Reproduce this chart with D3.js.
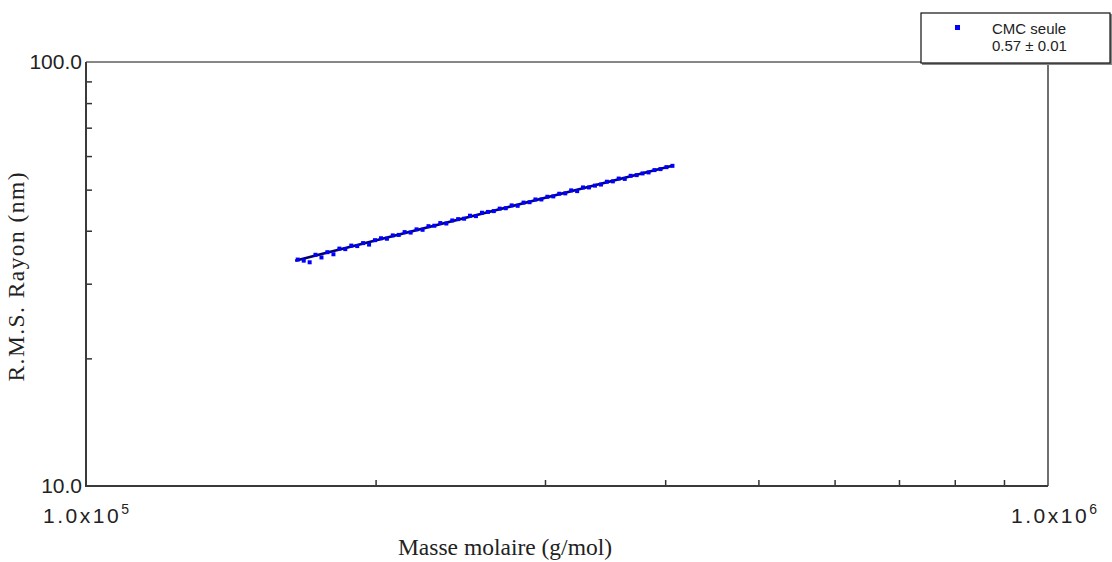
<html>
<head>
<script src="https://d3js.org/d3.v7.min.js"></script>
<style>
  body { margin: 0; background: #fff; }
  text { fill: #222; }
</style>
</head>
<body>
<script>
// molar mass (g/mol) and RMS radius (nm)
var masses = [166000, 168400, 170800, 173200, 175700, 178200, 180800, 183400, 186000, 188700,
  191400, 194100, 196900, 199700, 202600, 205500, 208400, 211400, 214400, 217500,
  220600, 223800, 227000, 230200, 233500, 236900, 240300, 243700, 247200, 250700,
  254300, 258000, 261700, 265400, 269200, 273100, 277000, 281000, 285000, 289100,
  293200, 297400, 301700, 306000, 310400, 314900, 319400, 324000, 328600, 333300,
  338100, 343000, 347900, 352900, 357900, 363100, 368300, 373600, 378900, 384400,
  389900, 395500, 401200, 407000];
var radii = [34.2, 34.0, 33.7, 35.1, 34.6, 35.6, 35.2, 36.3, 36.2, 36.9,
  36.8, 37.4, 37.1, 38.0, 38.4, 38.3, 39.0, 39.1, 39.7, 39.6,
  40.3, 40.2, 41.0, 41.1, 41.7, 41.6, 42.3, 42.6, 42.7, 43.4,
  43.3, 44.1, 44.3, 44.5, 45.1, 45.2, 45.9, 45.8, 46.6, 46.7,
  47.4, 47.4, 48.1, 48.2, 48.9, 49.0, 49.8, 49.6, 50.6, 50.6,
  51.1, 51.4, 52.2, 52.3, 53.1, 53.0, 53.9, 54.1, 54.6, 54.9,
  55.6, 55.9, 56.5, 56.9];
// power-law fit, slope 0.57
var fitMasses = [165000, 408000];
var fitRadii = [34.0, 57.0];

var xTicks = [200000, 300000, 400000, 500000, 600000, 700000, 800000, 900000];
var yTicks = [20, 30, 40, 50, 60, 70, 80, 90];
var legendLines = ["CMC seule", "0.57 \u00b1 0.01"];

var W = 1112, H = 562;
var margin = {top: 62, right: 64, bottom: 76, left: 86};

var svg = d3.select("body").append("svg")
    .attr("width", W)
    .attr("height", H);

var x = d3.scaleLog().domain([1e5, 1e6]).range([margin.left, W - margin.right]);
var y = d3.scaleLog().domain([10, 100]).range([H - margin.bottom, margin.top]);

// ticks pointing inward
svg.append("g")
    .attr("transform", "translate(0," + (H - margin.bottom) + ")")
    .call(d3.axisBottom(x).tickValues(xTicks).tickSizeInner(-6).tickSizeOuter(0).tickFormat(""))
    .call(g => g.select(".domain").remove())
    .call(g => g.selectAll("line").attr("stroke", "#333").attr("stroke-width", 1.5));

svg.append("g")
    .attr("transform", "translate(" + margin.left + ",0)")
    .call(d3.axisLeft(y).tickValues(yTicks).tickSizeInner(-6).tickSizeOuter(0).tickFormat(""))
    .call(g => g.select(".domain").remove())
    .call(g => g.selectAll("line").attr("stroke", "#333").attr("stroke-width", 1.5));

// frame: top / right thin, left / bottom heavier
svg.append("path")
    .attr("d", "M" + x(1e5) + "," + y(100) + "H" + x(1e6) + "V" + y(10))
    .attr("fill", "none").attr("stroke", "#111").attr("stroke-width", 1.2);
svg.append("path")
    .attr("d", "M" + x(1e5) + "," + y(100) + "V" + y(10) + "H" + x(1e6))
    .attr("fill", "none").attr("stroke", "#3a3a3a").attr("stroke-width", 2);

// y tick labels
svg.selectAll(".ylab")
    .data([10, 100]).enter()
    .append("text")
    .attr("x", margin.left - 4)
    .attr("y", d => y(d) + 7)
    .attr("text-anchor", "end")
    .attr("font-family", "Liberation Sans, Arial, sans-serif")
    .attr("font-size", 21)
    .text(d => d.toFixed(1));

// x tick labels 1.0x10^n
svg.selectAll(".xlab")
    .data([5, 6]).enter()
    .append("text")
    .attr("x", d => x(Math.pow(10, d)) + (d === 6 ? 6 : 0))
    .attr("y", 523)
    .attr("text-anchor", "middle")
    .attr("font-family", "Liberation Sans, Arial, sans-serif")
    .attr("font-size", 21)
    .attr("textLength", 86)
    .call(t => {
      t.append("tspan").text("1.0x10");
      t.append("tspan").attr("dy", -9).attr("font-size", 14).text(d => d);
    });

// axis titles
svg.append("text")
    .attr("x", 505)
    .attr("y", 555)
    .attr("text-anchor", "middle")
    .attr("font-family", "Liberation Serif, Times New Roman, serif")
    .attr("font-size", 23.5)
    .text("Masse molaire (g/mol)");

svg.append("text")
    .attr("transform", "translate(24,277) rotate(-90)")
    .attr("text-anchor", "middle")
    .attr("font-family", "Liberation Serif, Times New Roman, serif")
    .attr("font-size", 23.5)
    .attr("textLength", 209)
    .attr("lengthAdjust", "spacing")
    .text("R.M.S. Rayon (nm)");

// fit line
var line = d3.line().x(d => x(d[0])).y(d => y(d[1]));
svg.append("path")
    .datum(d3.zip(fitMasses, fitRadii))
    .attr("d", line)
    .attr("fill", "none")
    .attr("stroke", "#00006e")
    .attr("stroke-width", 2.6);

// data points
svg.append("g").selectAll("rect")
    .data(d3.zip(masses, radii)).enter()
    .append("rect")
    .attr("x", d => x(d[0]) - 2)
    .attr("y", d => y(d[1]) - 2)
    .attr("width", 4)
    .attr("height", 4)
    .attr("fill", "#0000ff");

// legend
var lg = svg.append("g").attr("transform", "translate(921,13)");
lg.append("rect")
    .attr("x", 1).attr("y", 1).attr("width", 190).attr("height", 51)
    .attr("fill", "#888");
lg.append("rect")
    .attr("width", 189).attr("height", 50)
    .attr("fill", "#fff").attr("stroke", "#111").attr("stroke-width", 1.2);
lg.append("rect")
    .attr("x", 34).attr("y", 12).attr("width", 5).attr("height", 5)
    .attr("fill", "#0000ff");
lg.selectAll(".lt")
    .data(legendLines).enter()
    .append("text")
    .attr("x", 71)
    .attr("y", (d, i) => 21 + i * 17)
    .attr("font-family", "Liberation Sans, Arial, sans-serif")
    .attr("font-size", 15)
    .text(d => d);
</script>
</body>
</html>
